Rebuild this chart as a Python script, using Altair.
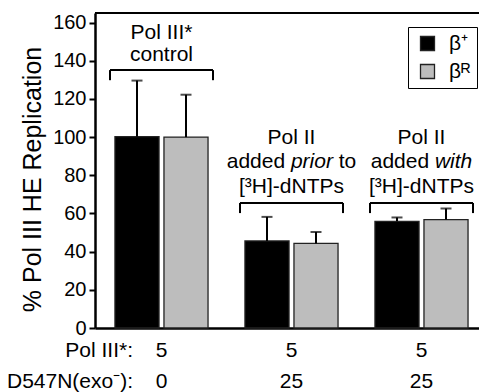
import altair as alt
import pandas as pd

# ---- data ----
group_pos = [1, 2, 3]
series = ["β⁺", "βᴿ"]
beta_plus = [100.2, 45.6, 55.9]
beta_plus_upper = [129.6, 58.2, 57.9]
beta_r = [100.0, 44.3, 56.8]
beta_r_upper = [122.2, 50.3, 62.6]
pol3_amount = ["5", "5", "5"]
d547n_amount = ["0", "25", "25"]
row_labels = ["Pol III*:", "D547N(exo⁻):"]
y_ticks = [0, 20, 40, 60, 80, 100, 120, 140, 160]
y_max = 165

FONT = "Liberation Sans"
TFS = 21  # annotation font size

rows = []
for i, p in enumerate(group_pos):
    rows.append({"pos": p, "si": 0, "series": series[0], "value": beta_plus[i], "upper": beta_plus_upper[i]})
    rows.append({"pos": p, "si": 1, "series": series[1], "value": beta_r[i], "upper": beta_r_upper[i]})
bars_df = pd.DataFrame(rows)

xscale = alt.Scale(domain=[0.4885, 3.4423], nice=False, zero=False)
yscale = alt.Scale(domain=[0, y_max], nice=False, zero=True)

x_axis = alt.Axis(labels=False, ticks=False, title=None, grid=False,
                  domainWidth=2.5, domainColor="black")
y_axis = alt.Axis(values=y_ticks, grid=False, tickSize=6, tickWidth=2,
                  tickColor="black", domainWidth=2.5, domainColor="black",
                  labelFontSize=20, labelFont=FONT, labelColor="black",
                  labelPadding=3,
                  title="% Pol III HE Replication", titleFont=FONT,
                  titleFontSize=25, titleFontWeight="normal", titleColor="black",
                  titleX=-63, titleY=166, titleAngle=270,
                  titleAlign="center", titleBaseline="middle")


def X(field):
    return alt.X(field, scale=xscale, axis=x_axis)


def Y(field):
    return alt.Y(field, scale=yscale, axis=y_axis)


base = alt.Chart(bars_df).transform_calculate(
    xl="datum.pos + (datum.si == 0 ? -0.358 : 0.019)",
    xr="datum.pos + (datum.si == 0 ? -0.019 : 0.358)",
    zero="0",
).transform_calculate(xc="(datum.xl + datum.xr) / 2")

bars = base.mark_bar(stroke="#222222", strokeWidth=1.3).encode(
    x=X("xl:Q"),
    x2="xr:Q",
    y=Y("value:Q"),
    y2="zero:Q",
    color=alt.Color("series:N",
                    scale=alt.Scale(domain=series, range=["#000000", "#bdbdbd"]),
                    legend=alt.Legend(title=None, orient="none", legendX=313, legendY=14,
                                      strokeColor="black", fillColor="white",
                                      padding=6, symbolType="square", symbolSize=196,
                                      symbolStrokeColor="#222222", symbolStrokeWidth=1.3,
                                      symbolOffset=3, labelFont=FONT, labelFontSize=21,
                                      labelColor="black", labelOffset=11, rowPadding=6)),
)

err = base.mark_rule(strokeWidth=2, color="black").encode(
    x=X("xc:Q"), y=Y("value:Q"), y2="upper:Q",
)
caps = base.mark_tick(orient="horizontal", size=11, thickness=2, color="black").encode(
    x=X("xc:Q"), y=Y("upper:Q"),
)

# top frame line
frame_df = pd.DataFrame({"top": [y_max]})
frame = alt.Chart(frame_df).mark_rule(strokeWidth=2, color="black").encode(
    y=Y("top:Q")
)

# brackets
bracket_level = [135.1, 65.5, 65.5]
bracket_drop = 5.3
bdf = pd.DataFrame({"pos": group_pos, "top": bracket_level,
                    "bot": [b - bracket_drop for b in bracket_level]})
bbase = alt.Chart(bdf).transform_calculate(
    l="datum.pos - 0.396", r="datum.pos + 0.396")
bh = bbase.mark_rule(strokeWidth=2, color="black").encode(
    x=X("l:Q"), x2="r:Q", y=Y("top:Q"))
bl = bbase.mark_rule(strokeWidth=2, color="black").encode(
    x=X("l:Q"), y=Y("top:Q"), y2="bot:Q")
br = bbase.mark_rule(strokeWidth=2, color="black").encode(
    x=X("r:Q"), y=Y("top:Q"), y2="bot:Q")

# group annotation text
centered_df = pd.DataFrame({
    "pos": [1, 1, 2, 2, 3, 3],
    "y": [151.4, 139.9, 96.4, 70.7, 96.4, 70.7],
    "text": ["Pol III*", "control", "Pol II", "[³H]-dNTPs", "Pol II", "[³H]-dNTPs"],
})


def txt(df, **kw):
    props = dict(font=FONT, fontSize=TFS, color="black", baseline="alphabetic")
    props.update(kw)
    return alt.Chart(df).mark_text(**props).encode(
        x=X("pos:Q"), y=Y("y:Q"), text="text:N")


t_center = txt(centered_df, align="center")
mid_y = 83.8
t_added2 = txt(pd.DataFrame({"pos": [2], "y": [mid_y], "text": ["added"]}), align="left", dx=-64.8)
t_added3 = txt(pd.DataFrame({"pos": [3], "y": [mid_y], "text": ["added"]}), align="left", dx=-50.8)
t_prior = txt(pd.DataFrame({"pos": [2], "y": [mid_y], "text": ["prior"]}),
              align="left", dx=-0.6, fontStyle="italic")
t_to = txt(pd.DataFrame({"pos": [2], "y": [mid_y], "text": ["to"]}), align="right", dx=64.8)
t_with = txt(pd.DataFrame({"pos": [3], "y": [mid_y], "text": ["with"]}),
             align="right", dx=50.8, fontStyle="italic")

# bottom table
row_y = [-15.2, -31.4]
bottom_df = pd.DataFrame({
    "pos": group_pos * 2,
    "y": [row_y[0]] * 3 + [row_y[1]] * 3,
    "text": pol3_amount + d547n_amount,
})
t_bottom = txt(bottom_df, align="center")
hdr_df = pd.DataFrame({"pos": [0.781, 0.781], "y": row_y, "text": row_labels})
t_hdr = txt(hdr_df, align="right")

chart = alt.layer(
    bars, err, caps, frame, bh, bl, br,
    t_center, t_added2, t_added3, t_prior, t_to, t_with, t_bottom, t_hdr
).properties(
    width=384, height=315,
    autosize=alt.AutoSizeParams(type="none"),
    padding={"left": 87, "top": 5, "right": 0, "bottom": 64},
    background="white",
).configure_view(stroke=None)

chart.save("out.html", embed_options={"renderer": "svg", "actions": False})
